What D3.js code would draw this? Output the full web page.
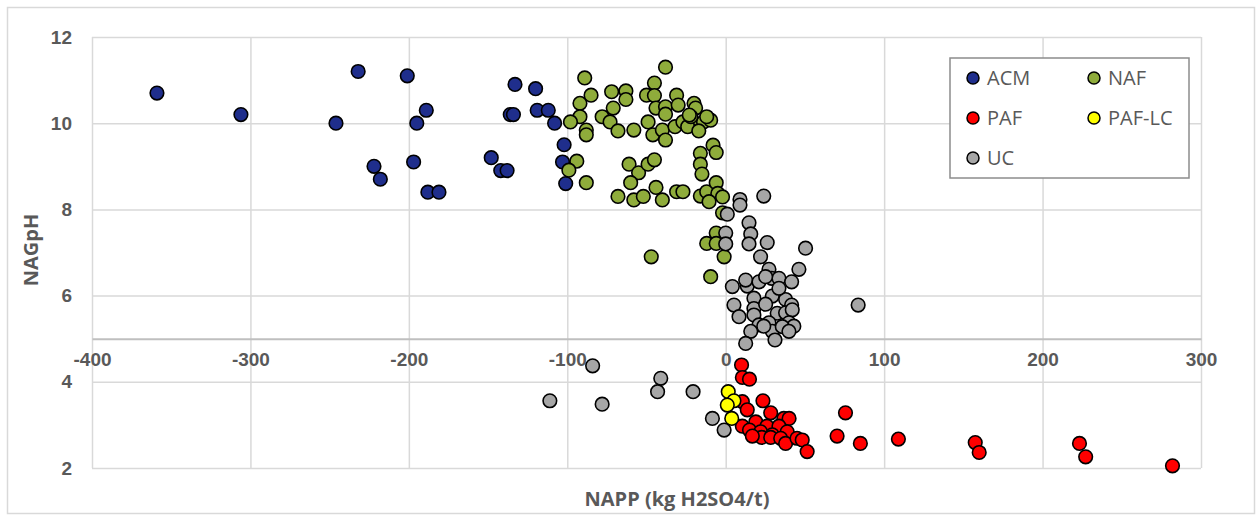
<!DOCTYPE html>
<html>
<head>
<meta charset="utf-8">
<script src="https://cdn.jsdelivr.net/npm/d3@7"></script>
<style>
  body { margin: 0; background: #fff; }
  svg { display: block; font-family: "Open Sans", "Liberation Sans", sans-serif; }
</style>
</head>
<body>
<svg id="chart"></svg>
<script>
const WIDTH = 1259;
const HEIGHT = 518;

const xTicks = [-400, -300, -200, -100, 0, 100, 200, 300];
const yTicks = [2, 4, 6, 8, 10, 12];

const seriesNames = ["ACM", "NAF", "PAF", "PAF-LC", "UC"];
const seriesColors = ["#1f2e8c", "#8fac3b", "#ff0000", "#ffff00", "#a6a6a6"];

// [NAPP, NAGpH]
const acmPoints = [
    [-359, 10.7], [-306, 10.2], [-246, 10.0], [-232, 11.2], [-222, 9.0], [-218, 8.7],
    [-201, 11.1], [-189, 10.3], [-195, 10.0], [-197, 9.1], [-188, 8.4], [-181, 8.4],
    [-148, 9.2], [-142, 8.9], [-138, 8.9], [-133, 10.9], [-136, 10.2], [-134, 10.2],
    [-120, 10.8], [-119, 10.3], [-112, 10.3], [-108, 10.0], [-102, 9.5], [-103, 9.1],
    [-101, 8.6]
];

const nafPoints = [
    [-38, 11.3], [-89, 11.05], [-45, 10.93], [-85, 10.65], [-72, 10.73], [-63, 10.75],
    [-63, 10.55], [-50, 10.65], [-45, 10.64], [-31, 10.65], [-20, 10.46], [-92, 10.46],
    [-71, 10.35], [-44, 10.35], [-38, 10.38], [-30, 10.42], [-38, 10.21], [-19, 10.35],
    [-92, 10.15], [-98, 10.03], [-78, 10.15], [-73, 10.03], [-88, 9.84], [-88, 9.73],
    [-68, 9.82], [-58, 9.84], [-49, 10.03], [-46, 9.73], [-40, 9.84], [-38, 9.61],
    [-32, 9.92], [-27, 10.03], [-21, 10.03], [-14, 10.03], [-9.5, 10.07], [-24, 9.92],
    [-17, 9.82], [-22, 10.15], [-12, 10.15], [-23, 10.19],
    [-8, 9.49], [-6, 9.32], [-16, 9.3], [-16, 9.05], [-94, 9.12], [-99, 8.91],
    [-88, 8.62], [-61, 9.05], [-55, 8.85], [-49, 9.05], [-45, 9.15], [-60, 8.62],
    [-68, 8.3], [-58, 8.22], [-52, 8.3], [-44, 8.51], [-40, 8.22], [-31, 8.41],
    [-27, 8.41], [-15, 8.82], [-16, 8.31], [-12, 8.41], [-6, 8.62], [-5, 8.37],
    [-10.5, 8.18], [-2, 8.29], [-2, 7.92], [-6, 7.45], [-12, 7.21], [-6, 7.21],
    [-1, 6.9], [-47, 6.9], [-9.5, 6.44]
];

const pafPoints = [
    [10, 4.39], [10.5, 4.1], [15, 4.06], [10.5, 3.54], [23.5, 3.56], [13.6, 3.35],
    [28.4, 3.28], [36.7, 3.15], [40, 3.15], [19, 3.07], [10.5, 2.97], [26, 2.97],
    [33.6, 2.97], [15, 2.88], [22, 2.84], [29.4, 2.77], [38.8, 2.84], [22.7, 2.71],
    [28.4, 2.71], [34.7, 2.69], [37.8, 2.57], [45, 2.69], [48.3, 2.65], [51.4, 2.38],
    [16.8, 2.74], [75.6, 3.28], [70.3, 2.74], [85, 2.57], [109, 2.67], [157.5, 2.59],
    [160, 2.36], [223.3, 2.57], [227.2, 2.26], [282, 2.05]
];

const pafLcPoints = [[1.6, 3.77], [5.2, 3.56], [1, 3.46], [3.8, 3.15]];

const ucPoints = [
    [24, 8.31], [9, 8.23], [9, 8.1], [1, 7.89], [14.7, 7.69], [15.8, 7.43], [14.7, 7.2],
    [26.2, 7.23], [0, 7.45], [0, 7.2], [50.4, 7.1], [22, 6.9], [27.3, 6.61], [46.2, 6.61],
    [4.2, 6.21], [13.6, 6.22], [12.6, 6.36], [21, 6.32], [29, 6.4], [33.6, 6.4],
    [41.6, 6.32], [25.2, 6.44], [29.4, 5.99], [17.8, 5.94], [37.8, 5.91], [5.2, 5.78],
    [17.8, 5.7], [41.6, 5.78], [83.6, 5.78], [8.4, 5.51], [17.8, 5.55], [32.5, 5.59],
    [37.8, 5.6], [42, 5.67], [27.3, 5.37], [39.9, 5.37], [43, 5.29], [21, 5.32],
    [15.8, 5.17], [29.4, 5.17], [35.7, 5.28], [39.9, 5.17], [12.6, 4.89], [31.1, 4.97],
    [25.2, 5.8], [33.6, 6.17], [24, 5.29],
    [-84, 4.37], [-111, 3.56], [-78, 3.48], [-41, 4.08], [-43, 3.77], [-20.6, 3.77],
    [-8.4, 3.15], [-1, 2.88]
];

const allSeries = [acmPoints, nafPoints, pafPoints, pafLcPoints, ucPoints];

const M = { left: 92, right: 1201, top: 37, bottom: 468 };
const TEXT = "#595959";
const GRID = "#d9d9d9";

const x = d3.scaleLinear().domain([-400, 300]).range([M.left, M.right]);
const y = d3.scaleLinear().domain([2, 12]).range([M.bottom, M.top]);

const svg = d3.select("#chart").attr("width", WIDTH).attr("height", HEIGHT);

svg.append("rect")
    .attr("x", 7.5).attr("y", 7.5)
    .attr("width", WIDTH - 12).attr("height", HEIGHT - 12)
    .attr("fill", "#fff").attr("stroke", GRID).attr("stroke-width", 1.5);

// horizontal grid + y labels
const yAxis = svg.append("g")
    .attr("transform", `translate(${M.left},0)`)
    .call(d3.axisLeft(y).tickValues(yTicks).tickSize(-(M.right - M.left)).tickPadding(20));
yAxis.select(".domain").remove();
yAxis.selectAll("line").attr("stroke", GRID).attr("stroke-width", 1.5);
yAxis.selectAll("text").attr("fill", TEXT).attr("font-weight", 600).style("font-size", "19px").attr("x", -20);

// vertical grid
const xGrid = svg.append("g")
    .attr("transform", `translate(0,${M.bottom})`)
    .call(d3.axisBottom(x).tickValues(xTicks).tickSize(-(M.bottom - M.top)).tickFormat(""));
xGrid.select(".domain").remove();
xGrid.selectAll("line").attr("stroke", GRID).attr("stroke-width", 1.5);

// x axis crosses at NAGpH = 5, labels use a plain hyphen like the original
const xAxis = svg.append("g")
    .attr("transform", `translate(0,${y(5)})`)
    .call(d3.axisBottom(x).tickValues(xTicks).tickSize(0).tickPadding(14).tickFormat(d => String(d)));
xAxis.select(".domain").attr("stroke", "#bfbfbf").attr("stroke-width", 2);
xAxis.selectAll("text").attr("fill", TEXT).attr("font-weight", 600).style("font-size", "19px");

// points, drawn in legend order
allSeries.forEach((pts, i) => {
    svg.append("g")
        .selectAll("circle")
        .data(pts)
        .enter()
        .append("circle")
        .attr("cx", d => x(d[0]))
        .attr("cy", d => y(d[1]))
        .attr("r", 6.8)
        .attr("fill", seriesColors[i])
        .attr("stroke", "#000")
        .attr("stroke-width", 1.6);
});

// axis titles
svg.append("text")
    .attr("x", 677).attr("y", 506)
    .attr("text-anchor", "middle")
    .attr("fill", TEXT).attr("font-weight", "bold").style("font-size", "20px")
    .text("NAPP (kg H2SO4/t)");

svg.append("text")
    .attr("transform", `translate(38,250) rotate(-90)`)
    .attr("text-anchor", "middle")
    .attr("fill", TEXT).attr("font-weight", "bold").style("font-size", "20px")
    .text("NAGpH");

// legend
const legend = svg.append("g");
legend.append("rect")
    .attr("x", 950).attr("y", 58).attr("width", 239).attr("height", 120)
    .attr("fill", "#fff").attr("stroke", "#8c8c8c").attr("stroke-width", 1.5);

const legendPos = [[973, 78], [1094, 78], [973, 118], [1094, 118], [973, 158]];
seriesNames.forEach((name, i) => {
    const [lx, ly] = legendPos[i];
    legend.append("circle")
        .attr("cx", lx).attr("cy", ly).attr("r", 6)
        .attr("fill", seriesColors[i]).attr("stroke", "#000").attr("stroke-width", 1.5);
    legend.append("text")
        .attr("x", lx + 14).attr("y", ly)
        .attr("dy", "0.36em")
        .attr("fill", TEXT).style("font-size", "20px")
        .text(name);
});
</script>
</body>
</html>
